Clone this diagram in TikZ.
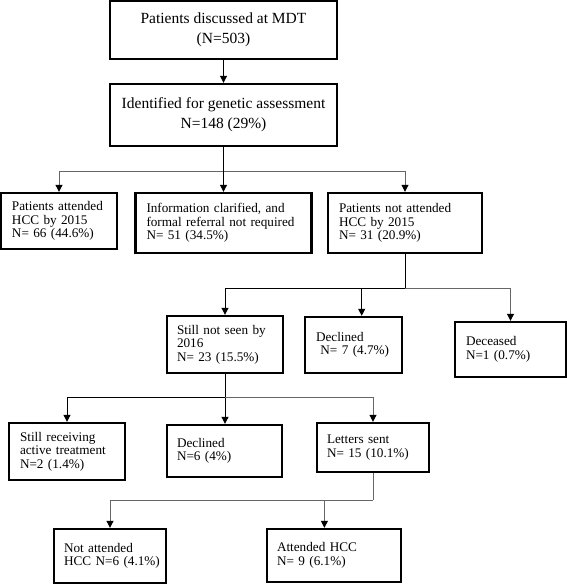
\documentclass[tikz,border=0pt]{standalone}
\usepackage{fontspec}
\setmainfont{Liberation Serif}
\usetikzlibrary{arrows.meta}
\begin{document}
\begin{tikzpicture}[x=1pt,y=-1pt,
 big/.style={draw,line width=2.4pt,align=center,font=\fontsize{15.5}{20}\selectfont,inner sep=0pt},
 small/.style={draw,line width=2.4pt,align=left,font=\fontsize{13.2}{13.6}\selectfont,inner xsep=11pt,inner ysep=0pt},
 stem/.style={line width=1pt},
 arr/.style={line width=1pt,-{Triangle[length=7pt,width=7pt,color=black]}},
 grey/.style={draw=black!60}]
\useasboundingbox (0,0) rectangle (567,584);
% top boxes
\node[big,minimum width=227pt,minimum height=58pt] (mdt) at (223.5,30) {Patients discussed at MDT\\(N=503)};
\node[big,minimum width=227pt,minimum height=62pt] (gen) at (223.5,115) {Identified for genetic assessment\\N=148 (29\%)};
% row 3
\node[small,minimum width=116pt,minimum height=56pt,text width=94pt] (att) at (59,221) {\mbox{Patients attended}\\HCC by 2015\\\mbox{N= 66 (44.6\%)}};
\node[small,minimum width=176pt,minimum height=60pt,text width=154pt] (info) at (223.5,223) {\mbox{Information clarified, and}\\\mbox{formal referral not required}\\N= 51 (34.5\%)};
\node[small,minimum width=154pt,minimum height=60pt,text width=132pt] (nat) at (405,223) {\mbox{Patients not attended}\\HCC by 2015\\N= 31 (20.9\%)};
% row 4
\node[small,minimum width=116pt,minimum height=57pt,text width=96pt,inner xsep=10pt] (still) at (225,344.5) {\mbox{Still not seen by}\\2016\\\mbox{N= 23 (15.5\%)}};
\node[small,minimum width=97pt,minimum height=56pt,text width=75pt] (dec1) at (353.5,345) {Declined\\\ \mbox{N= 7 (4.7\%)}\\[3pt]};
\node[small,minimum width=111pt,minimum height=55pt,text width=89pt] (dcd) at (510.5,349.5) {Deceased\\\mbox{N=1 (0.7\%)}\\[3pt]};
% row 5
\node[small,minimum width=116pt,minimum height=57pt,text width=94pt,inner xsep=11pt] (recv) at (67,451.5) {\mbox{Still receiving}\\\mbox{active treatment}\\N=2 (1.4\%)};
\node[small,minimum width=115pt,minimum height=52pt,text width=95pt,inner xsep=10pt] (dec2) at (224.5,451) {Declined\\N=6 (4\%)};
\node[small,minimum width=112pt,minimum height=49pt,text width=92pt,inner xsep=10pt] (let) at (373,447.5) {Letters sent\\\mbox{N= 15 (10.1\%)}};
% row 6
\node[small,minimum width=112pt,minimum height=54pt,text width=92pt,inner xsep=10pt] (nott) at (110,556) {Not attended\\\mbox{HCC N=6 (4.1\%)}};
\node[small,minimum width=134pt,minimum height=53pt,text width=114pt,inner xsep=10pt] (ahcc) at (334,555.5) {Attended HCC\\N= 9 (6.1\%)};
% junction coordinates
\coordinate (j1) at (223.5,171);
\coordinate (j2) at (405,288);
\coordinate (j2d) at (361.7,288);
\coordinate (j3) at (225,397);
\coordinate (j4) at (373,500);
\coordinate (j4k) at (324.4,500);
% connectors
\draw[arr] (mdt.south) -- (gen.north);
\draw[stem] (gen.south) -- (j1);
\draw[arr,grey] (j1) -| (att.north);
\draw[arr] (j1) -- (info.north);
\draw[arr,grey] (j1) -| (nat.north);
\draw[stem] (nat.south) -- (j2);
\draw[arr] (j2) -| (still.north);
\draw[arr] (j2d) -- (j2d |- dec1.north);
\draw[arr,grey] (j2) -| (dcd.north);
\draw[stem] (still.south) -- (j3);
\draw[arr] (j3) -| (recv.north);
\draw[arr] (j3) -- (j3 |- dec2.north);
\draw[arr,grey] (j3) -| (let.north);
\draw[stem,grey] (let.south) -- (j4);
\draw[arr,grey] (j4) -| (nott.north);
\draw[arr,grey] (j4k) -- (j4k |- ahcc.north);
\end{tikzpicture}
\end{document}
